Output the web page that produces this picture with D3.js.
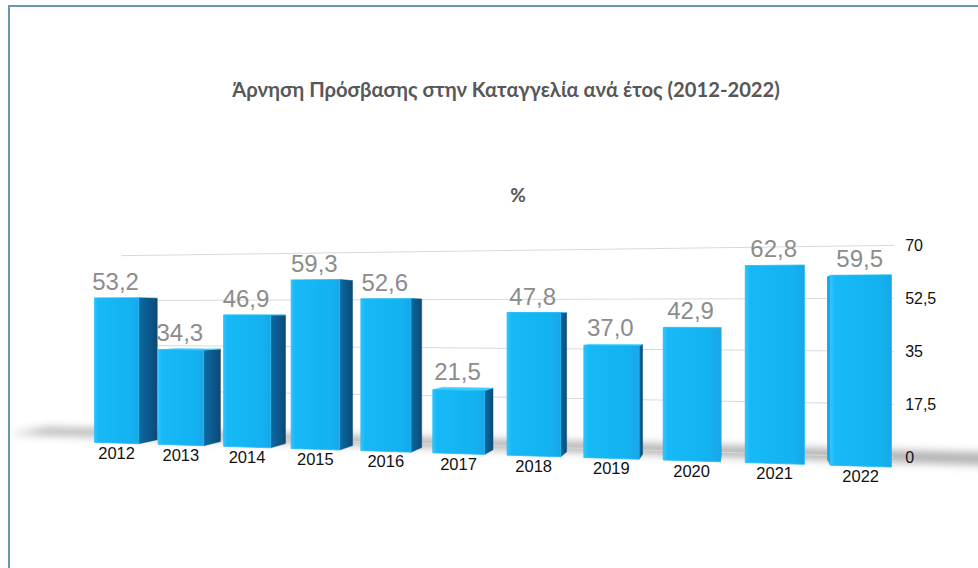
<!DOCTYPE html>
<html>
<head>
<meta charset="utf-8">
<script src="https://cdn.jsdelivr.net/npm/d3@7"></script>
<style>
body { margin: 0; background: #fff; }
svg { display: block; }
</style>
</head>
<body>
<script>
const years = ['2012', '2013', '2014', '2015', '2016', '2017', '2018', '2019', '2020', '2021', '2022'];
const values = [53.2, 34.3, 46.9, 59.3, 52.6, 21.5, 47.8, 37.0, 42.9, 62.8, 59.5];
const tickValues = [0, 17.5, 35, 52.5, 70];
const title = 'Άρνηση Πρόσβασης στην Καταγγελία ανά έτος (2012-2022)';
const unit = '%';

const svgSize = {width: 978, height: 568};

// simple perspective camera, row of bars turned towards the viewer on the right
const cam = {f: 1000, cx: 525, cy: 312, h: 48};
const row = {x0: -149.6, z0: 366.3, angle: Math.atan(0.2157)};
const barDepth = 11.75;
const gridBack = 22;

const cosA = Math.cos(row.angle), sinA = Math.sin(row.angle);

function project(u, v, h) {
	let X = row.x0 + u * cosA + v * sinA;
	let Z = row.z0 - u * sinA + v * cosA;
	return [cam.cx + cam.f * X / Z, cam.cy + cam.f * (cam.h - h) / Z];
}

function seen(u, v, nu, nv) {
	// is the face at (u,v) with normal (nu,nv) in row coords facing the camera
	let X = row.x0 + u * cosA + v * sinA;
	let Z = row.z0 - u * sinA + v * cosA;
	let nx = nu * cosA + nv * sinA;
	let nz = -nu * sinA + nv * cosA;
	return (-X * nx - Z * nz) > 0;
}

const locale = d3.formatLocale({decimal: ',', thousands: '.', grouping: [3], currency: ['', '€']});
const fmtValue = locale.format('.1f');
const fmtTick = locale.format('~g');

const x = d3.scaleBand().domain(years).range([-13, 273]).paddingInner(0.3).paddingOuter(0.15);
const y = d3.scaleLinear().domain([0, 70]).range([0, 70]);

const dataset = years.map((d, i) => ({year: d, value: values[i]}));

var svg = d3.select('body').append('svg')
	.attr('width', svgSize.width)
	.attr('height', svgSize.height);

var defs = svg.append('defs');

defs.append('filter').attr('id', 'blur')
	.attr('x', '-20%').attr('y', '-100%').attr('width', '140%').attr('height', '300%')
	.append('feGaussianBlur').attr('stdDeviation', 4.5);

var gFront = defs.append('linearGradient').attr('id', 'front');
gFront.append('stop').attr('offset', '0%').attr('stop-color', '#2fc6ff');
gFront.append('stop').attr('offset', '8%').attr('stop-color', '#16b9f6');
gFront.append('stop').attr('offset', '80%').attr('stop-color', '#13b2f1');
gFront.append('stop').attr('offset', '100%').attr('stop-color', '#1aa6e8');

var gSide = defs.append('linearGradient').attr('id', 'side');
gSide.append('stop').attr('offset', '0%').attr('stop-color', '#0d6aa3');
gSide.append('stop').attr('offset', '100%').attr('stop-color', '#0a4a78');

// frame
svg.append('path')
	.attr('d', `M9,${svgSize.height} V6 H${svgSize.width}`)
	.attr('fill', 'none')
	.attr('stroke', '#6b95aa')
	.attr('stroke-width', 2);

svg.append('text')
	.attr('x', 506)
	.attr('y', 97)
	.attr('text-anchor', 'middle')
	.style('font-family', 'Lato, sans-serif')
	.style('font-weight', 700)
	.style('font-size', '20.2px')
	.attr('fill', '#575757')
	.text(title);

svg.append('text')
	.attr('x', 518)
	.attr('y', 202)
	.attr('text-anchor', 'middle')
	.style('font-family', 'Lato, sans-serif')
	.style('font-weight', 700)
	.style('font-size', '19px')
	.attr('fill', '#575757')
	.text(unit);

// floor shadow
var u0 = x.range()[0], u1 = x.range()[1];
var shadow = [project(u0 - 45, 16, 0), project(u1 + 70, 10, 0), project(u1 + 70, 40, 0), project(u0 - 45, 38, 0)];
svg.append('path')
	.attr('d', d3.line()(shadow) + 'Z')
	.attr('fill', '#858585')
	.attr('opacity', 0.65)
	.attr('filter', 'url(#blur)');

// gridlines on the back plane
svg.append('g').selectAll('line')
	.data(tickValues)
	.enter()
	.append('line')
	.attr('x1', (d) => project(u0, gridBack, y(d))[0])
	.attr('y1', (d) => project(u0, gridBack, y(d))[1])
	.attr('x2', (d) => project(u1, gridBack, y(d))[0])
	.attr('y2', (d) => project(u1, gridBack, y(d))[1])
	.attr('stroke', '#d9d9d9')
	.attr('stroke-width', 1);

// value axis sits on the right end of the back plane, which is a vertical line on screen
var axisX = project(u1, gridBack, 0)[0];
var axisScale = d3.scaleLinear().domain(y.domain())
	.range([project(u1, gridBack, y(0))[1], project(u1, gridBack, y(70))[1]]);

svg.append('g')
	.attr('transform', `translate(${axisX + 8}, 0)`)
	.call(d3.axisRight(axisScale).tickValues(tickValues).tickFormat(fmtTick).tickSize(0))
	.call((g) => g.select('.domain').remove())
	.selectAll('text')
	.style('font-family', '"Liberation Sans", Arial, sans-serif')
	.style('font-size', '16px')
	.attr('fill', '#111');

// bars
var bars = svg.append('g').selectAll('g')
	.data(dataset)
	.enter()
	.append('g');

function face(pts) {
	return d3.line()(pts) + 'Z';
}

bars.each(function(d) {
	let g = d3.select(this);
	let a = x(d.year), b = x(d.year) + x.bandwidth();
	let h = y(d.value);
	if (seen(b, barDepth / 2, 1, 0)) {
		g.append('path')
			.attr('d', face([project(b, 0, 0), project(b, barDepth, 0), project(b, barDepth, h), project(b, 0, h)]))
			.attr('fill', 'url(#side)')
			.attr('stroke', '#0a4a78').attr('stroke-width', 0.5).attr('stroke-linejoin', 'round');
	}
	if (seen(a, barDepth / 2, -1, 0)) {
		g.append('path')
			.attr('d', face([project(a, 0, 0), project(a, barDepth, 0), project(a, barDepth, h), project(a, 0, h)]))
			.attr('fill', '#14a8e8');
	}
	if (h < cam.h) {
		g.append('path')
			.attr('d', face([project(a, 0, h), project(b, 0, h), project(b, barDepth, h), project(a, barDepth, h)]))
			.attr('fill', '#3fcfff')
			.attr('stroke', '#3fcfff').attr('stroke-width', 0.5).attr('stroke-linejoin', 'round');
	}
	g.append('path')
		.attr('d', face([project(a, 0, 0), project(b, 0, 0), project(b, 0, h), project(a, 0, h)]))
		.attr('fill', 'url(#front)')
		.attr('stroke', '#1fbaf5').attr('stroke-width', 0.8).attr('stroke-linejoin', 'round');
});

// value labels
bars.append('text')
	.attr('x', (d) => project(x(d.year) + x.bandwidth() / 2, 0, y(d.value))[0] - 1)
	.attr('y', (d) => Math.min(project(x(d.year) + x.bandwidth() / 2, 0, y(d.value))[1], project(x(d.year) + x.bandwidth() / 2, barDepth, y(d.value))[1]) - 8)
	.attr('text-anchor', 'middle')
	.style('font-family', '"Liberation Sans", Arial, sans-serif')
	.style('font-size', '24px')
	.attr('fill', '#8c8c8c')
	.text((d) => fmtValue(d.value));

// category labels
bars.append('text')
	.attr('x', (d) => project(x(d.year) + x.bandwidth() / 2, 0, 0)[0])
	.attr('y', (d) => project(x(d.year) + x.bandwidth() / 2, 0, 0)[1] + 16)
	.attr('text-anchor', 'middle')
	.style('font-family', '"Liberation Sans", Arial, sans-serif')
	.style('font-size', '16.5px')
	.attr('fill', '#111')
	.text((d) => d.year);
</script>
</body>
</html>
